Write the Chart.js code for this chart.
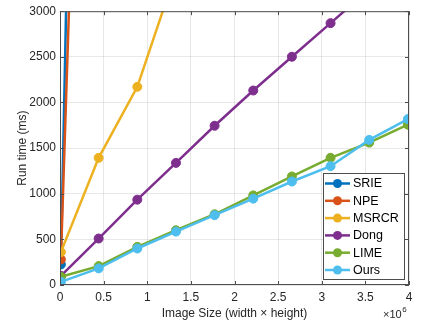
<!DOCTYPE html>
<html>
<head>
<meta charset="utf-8">
<script src="https://cdn.jsdelivr.net/npm/chart.js@4"></script>
<style>
  body { margin: 0; background: #fff; }
  #wrap { width: 438px; height: 325px; }
</style>
</head>
<body>
<div id="wrap"><canvas id="runChart" width="438" height="325"></canvas></div>
<script>
// image size in millions of pixels
const imageSizes = [0.01, 0.443, 0.886, 1.329, 1.772, 2.215, 2.658, 3.101, 3.544, 3.987];

// run time (ms) for each method
const srie  = [225, 20400, 40900, 61700, 82300, 103000, 123500, 144200, 164800, 185300];
const npe   = [280, 13050, 26100, 39000, 52200, 65300, 78100, 91200, 104300, 117400];
const msrcr = [360, 1393, 2171, 3430, 4700, 6000, 7300, 8600, 9900, 11200];
const dong  = [100, 509, 935, 1338, 1745, 2131, 2501, 2869, 3240, 3610];
const lime  = [90, 207, 418, 600, 775, 982, 1189, 1393, 1560, 1756];
const ours  = [35, 182, 400, 585, 765, 946, 1134, 1302, 1590, 1818];

const methodNames = ["SRIE", "NPE", "MSRCR", "Dong", "LIME", "Ours"];
const methodColors = ["#0072BD", "#D95319", "#EDB120", "#7E2F8E", "#77AC30", "#4DBEEE"];
const methodValues = [srie, npe, msrcr, dong, lime, ours];

const xTicks = [0, 0.5, 1, 1.5, 2, 2.5, 3, 3.5, 4];
const yTicks = [0, 500, 1000, 1500, 2000, 2500, 3000];

const FONT = "'Liberation Sans', Arial, Helvetica, sans-serif";
const TEXT = "#262626";

var datasets = methodNames.map(function (name, i) {
    return {
        label: name,
        data: imageSizes.map(function (x, j) { return { x: x, y: methodValues[i][j] }; }),
        borderColor: methodColors[i],
        backgroundColor: methodColors[i],
        borderWidth: 2.5,
        pointRadius: 4.5,
        pointBorderWidth: 1,
        pointBackgroundColor: methodColors[i],
        pointBorderColor: methodColors[i],
        tension: 0,
        order: methodNames.length - i   // later series drawn on top, like matlab
    };
});

// box, inward ticks, legend and the x10^6 exponent
var matlabBits = {
    id: 'matlabBits',
    afterDatasetsDraw: function (chart) {
        var ctx = chart.ctx, a = chart.chartArea;
        var xs = chart.scales.x, ys = chart.scales.y;
        ctx.save();
        ctx.strokeStyle = "#4d4d4d";
        ctx.lineWidth = 1;
        ctx.strokeRect(a.left + 0.5, a.top + 0.5, a.right - a.left - 1, a.bottom - a.top - 1);
        ctx.beginPath();
        xTicks.forEach(function (t) {
            var px = Math.round(xs.getPixelForValue(t)) + 0.5;
            ctx.moveTo(px, a.bottom); ctx.lineTo(px, a.bottom - 4);
            ctx.moveTo(px, a.top); ctx.lineTo(px, a.top + 4);
        });
        yTicks.forEach(function (t) {
            var py = Math.round(ys.getPixelForValue(t)) + 0.5;
            ctx.moveTo(a.left, py); ctx.lineTo(a.left + 4, py);
            ctx.moveTo(a.right, py); ctx.lineTo(a.right - 4, py);
        });
        ctx.stroke();

        // legend
        var lx = 323, ly = 173, lw = 81, lh = 106;
        ctx.fillStyle = "#fff";
        ctx.fillRect(lx, ly, lw, lh);
        ctx.strokeStyle = "#4d4d4d";
        ctx.strokeRect(lx + 0.5, ly + 0.5, lw, lh);
        ctx.font = "12.5px " + FONT;
        ctx.textBaseline = "middle";
        methodNames.forEach(function (name, i) {
            var cy = 183.5 + i * 17.3;
            ctx.strokeStyle = methodColors[i];
            ctx.lineWidth = 2.5;
            ctx.beginPath();
            ctx.moveTo(325, cy); ctx.lineTo(350, cy);
            ctx.stroke();
            ctx.fillStyle = methodColors[i];
            ctx.beginPath();
            ctx.arc(337.5, cy, 4.5, 0, Math.PI * 2);
            ctx.fill();
            ctx.fillStyle = "#000";
            ctx.fillText(name, 353, cy + 0.5);
        });

        // exponent
        ctx.fillStyle = TEXT;
        ctx.font = "11px " + FONT;
        ctx.textBaseline = "alphabetic";
        ctx.fillText("\u00d710", 383, 318);
        var w = ctx.measureText("\u00d710").width;
        ctx.font = "8px " + FONT;
        ctx.fillText("6", 383 + w + 0.5, 312);
        ctx.restore();
    }
};

var ctx = document.getElementById('runChart');
var myChart = new Chart(ctx, {
    type: 'line',
    data: { datasets: datasets },
    options: {
        responsive: false,
        animation: false,
        layout: { padding: { top: 10, right: 29, bottom: 0, left: 12 } },
        plugins: { legend: { display: false }, tooltip: { enabled: false } },
        scales: {
            x: {
                type: 'linear',
                min: 0, max: 4,
                afterBuildTicks: function (s) { s.ticks = xTicks.map(function (v) { return { value: v }; }); },
                afterFit: function (s) { s.height = 40; },
                ticks: { autoSkip: false, maxRotation: 0, padding: 5, color: TEXT,
                         font: { family: FONT, size: 12 },
                         callback: function (v) { return String(v); } },
                grid: { color: "rgba(0,0,0,0.09)", drawTicks: false },
                border: { display: false },
                title: { display: true, text: "Image Size (width \u00d7 height)", color: TEXT,
                         font: { family: FONT, size: 12 }, padding: { top: 0, bottom: 4 } }
            },
            y: {
                type: 'linear',
                min: 0, max: 3000,
                afterBuildTicks: function (s) { s.ticks = yTicks.map(function (v) { return { value: v }; }); },
                afterFit: function (s) { s.width = 48; },
                ticks: { autoSkip: false, padding: 4, color: TEXT,
                         font: { family: FONT, size: 12 },
                         callback: function (v) { return String(v); } },
                grid: { color: "rgba(0,0,0,0.09)", drawTicks: false },
                border: { display: false },
                title: { display: true, text: "Run time (ms)", color: TEXT,
                         font: { family: FONT, size: 12 }, padding: { top: 3, bottom: 0 } }
            }
        }
    },
    plugins: [matlabBits]
});
</script>
</body>
</html>
